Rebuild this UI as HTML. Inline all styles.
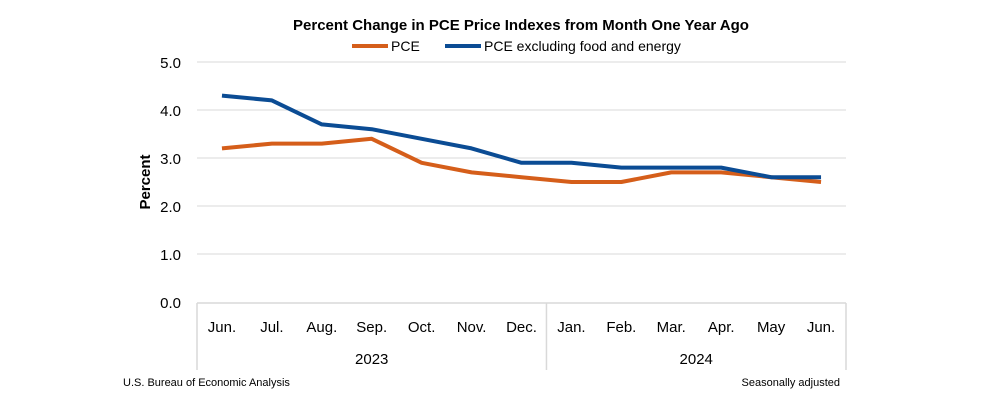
<!DOCTYPE html>
<html><head><meta charset="utf-8"><style>
body{margin:0;background:#fff;width:1000px;height:414px;overflow:hidden;font-family:"Liberation Sans",Calibri,sans-serif}
svg text{font-family:"Liberation Sans",sans-serif}
</style></head><body>
<svg id="chart" width="1000" height="414" viewBox="0 0 1000 414" xmlns="http://www.w3.org/2000/svg">
<text x="521" y="30" text-anchor="middle" font-size="15" font-weight="bold" fill="#000">Percent Change in PCE Price Indexes from Month One Year Ago</text>
<g>
<line x1="352" y1="46" x2="388" y2="46" stroke="#D55E1A" stroke-width="4"/>
<text x="391" y="51" font-size="14">PCE</text>
<line x1="445" y1="46" x2="481" y2="46" stroke="#0B4C94" stroke-width="4"/>
<text x="484" y="51" font-size="14">PCE excluding food and energy</text>
</g>
<text transform="translate(150,182) rotate(-90)" text-anchor="middle" font-size="15" font-weight="bold">Percent</text>
<g id="grid"></g><g id="axes"></g><g id="series"></g>
<text x="123" y="386" font-size="11">U.S. Bureau of Economic Analysis</text>
<text x="840" y="386" text-anchor="end" font-size="11">Seasonally adjusted</text>
</svg>
<script>
const months=["Jun.","Jul.","Aug.","Sep.","Oct.","Nov.","Dec.","Jan.","Feb.","Mar.","Apr.","May","Jun."];
const years=["2023","2024"];
const yearSpans=[7,6];
const pce=[3.2,3.3,3.3,3.4,2.9,2.7,2.6,2.5,2.5,2.7,2.7,2.6,2.5];
const core=[4.3,4.2,3.7,3.6,3.4,3.2,2.9,2.9,2.8,2.8,2.8,2.6,2.6];
const yTicks=[0,1,2,3,4,5];
const yTickLabels=["0.0","1.0","2.0","3.0","4.0","5.0"];
const NS="http://www.w3.org/2000/svg";
const L=197,R=846,T=62,B=302,YMAX=5;
const bw=(R-L)/months.length;
const x=i=>L+bw*(i+0.5);
const y=v=>B-(v/YMAX)*(B-T);
function mk(tag,attrs,parent,txt){const e=document.createElementNS(NS,tag);for(const k in attrs)e.setAttribute(k,attrs[k]);if(txt!==undefined)e.textContent=txt;document.getElementById(parent).appendChild(e);return e;}
yTicks.forEach((t,i)=>{
  if(t>0){const g=mk("line",{x1:L,x2:R,y1:y(t),y2:y(t),stroke:"#d9d9d9","stroke-width":1},"grid");
  
  }
  const l=mk("text",{x:181,y:y(t)+6,"text-anchor":"end","font-size":15},"grid",yTickLabels[i]);
  
  
});
const ax=mk("line",{x1:L,x2:R,y1:B+1,y2:B+1,stroke:"#d9d9d9","stroke-width":1.5},"axes");


months.forEach((m,i)=>{
  const t=mk("text",{x:x(i),y:332,"text-anchor":"middle","font-size":15},"axes",m);
  
  
});
let start=0;
const sep0=mk("line",{x1:L,x2:L,y1:B+1,y2:370,stroke:"#d9d9d9","stroke-width":1.5},"axes");


years.forEach((yr,j)=>{
  const end=start+yearSpans[j];
  const xe=L+bw*end;
  const s=mk("line",{x1:xe,x2:xe,y1:B+1,y2:370,stroke:"#d9d9d9","stroke-width":1.5},"axes");
  
  
  const t=mk("text",{x:(L+bw*start+xe)/2,y:364,"text-anchor":"middle","font-size":15},"axes",yr);
  
  
  start=end;
});
function line(data,color,name){
  const p=mk("polyline",{points:data.map((v,i)=>x(i)+","+y(v)).join(" "),fill:"none",stroke:color,"stroke-width":4,"stroke-linejoin":"round"},"series");
  
  
}
line(pce,"#D55E1A","pce-line");
line(core,"#0B4C94","core-pce-line");
</script>
</body></html>
